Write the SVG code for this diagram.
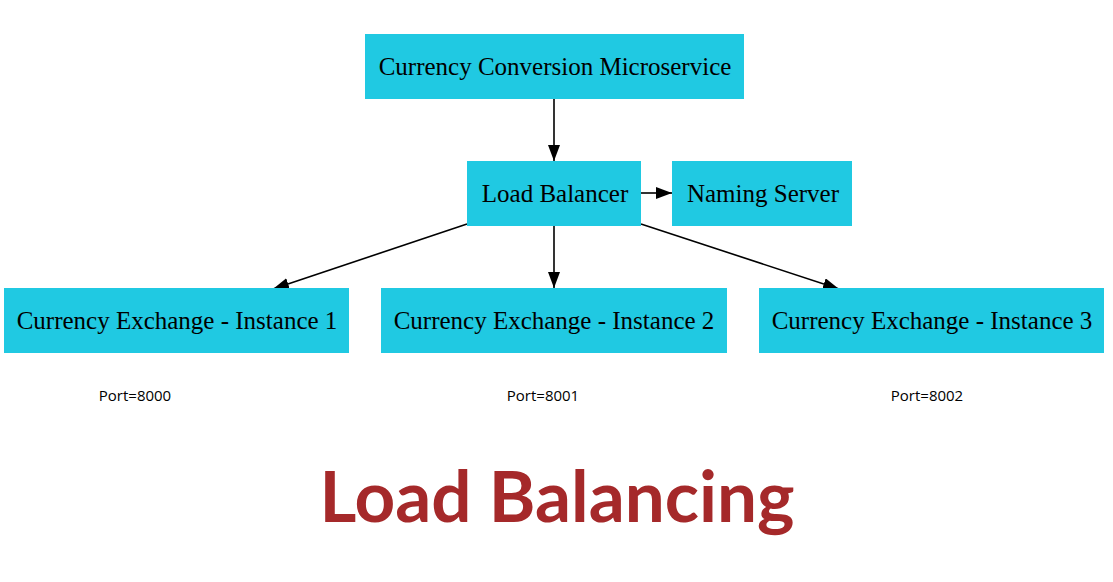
<svg xmlns="http://www.w3.org/2000/svg" width="1113" height="582" viewBox="0 0 1113 582">
<style>
.box{fill:#20C9E2;}
.lbl{font-family:"Liberation Serif",serif;font-size:25px;fill:#000;text-anchor:middle;}
.port{font-family:"Open Sans","Noto Sans",sans-serif;font-size:15px;fill:#000;text-anchor:middle;}
.edge{stroke:#000;stroke-width:1.6;fill:none;marker-end:url(#ah);}
.title{font-family:Lato,"Open Sans",sans-serif;font-weight:bold;font-size:71px;fill:#A5292A;text-anchor:middle;}
</style>
<defs>
<marker id="ah" markerWidth="16" markerHeight="12" refX="16" refY="6" orient="auto" markerUnits="userSpaceOnUse" viewBox="0 0 16 12">
<path d="M0,0 L16,6 L0,12 Z" fill="#000"/>
</marker>
</defs>
<rect width="1113" height="582" fill="#fff"/>
<g id="connectors">
<line class="edge" x1="554" y1="99" x2="554" y2="161"/>
<line class="edge" x1="641" y1="193" x2="672" y2="193"/>
<line class="edge" x1="467" y1="224" x2="273" y2="289"/>
<line class="edge" x1="554" y1="226" x2="554" y2="288"/>
<line class="edge" x1="641" y1="224" x2="839" y2="289"/>
</g>
<g id="ccm"><rect class="box" x="365" y="34" width="379" height="65"/><text class="lbl" x="555" y="75">Currency Conversion Microservice</text></g>
<g id="lb"><rect class="box" x="467" y="161" width="174" height="65"/><text class="lbl" x="555" y="202">Load Balancer</text></g>
<g id="ns"><rect class="box" x="672" y="161" width="180" height="65"/><text class="lbl" x="763" y="202">Naming Server</text></g>
<g id="inst1"><rect class="box" x="4" y="288" width="345" height="65"/><text class="lbl" x="177" y="329">Currency Exchange - Instance 1</text></g>
<g id="inst2"><rect class="box" x="381" y="288" width="346" height="65"/><text class="lbl" x="554" y="329">Currency Exchange - Instance 2</text></g>
<g id="inst3"><rect class="box" x="759" y="288" width="345" height="65"/><text class="lbl" x="932" y="329">Currency Exchange - Instance 3</text></g>
<g id="ports">
<text class="port" x="135" y="401">Port=8000</text>
<text class="port" x="543" y="401">Port=8001</text>
<text class="port" x="927" y="401">Port=8002</text>
</g>
<text class="title" x="557" y="522">Load Balancing</text>
</svg>
